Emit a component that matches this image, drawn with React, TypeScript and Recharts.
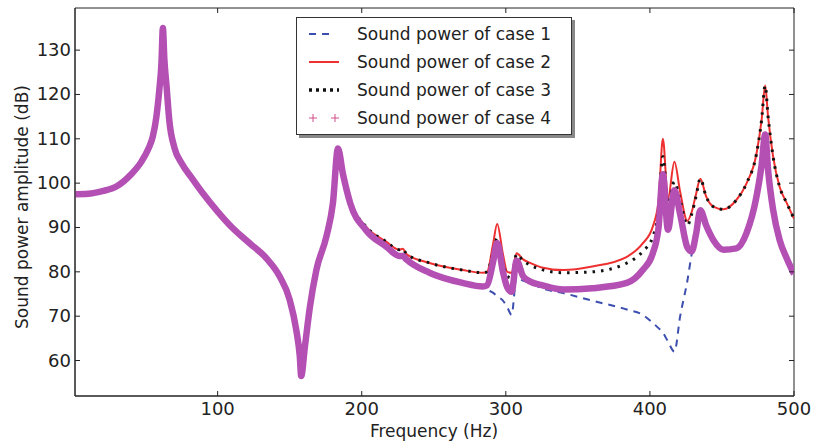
import { LineChart, Line, XAxis, YAxis, ReferenceArea } from 'recharts'

// frequency grid (Hz)
const freqs = [
  1, 10, 20, 30, 40, 47, 52, 55, 57.5, 59.5, 61, 62, 63, 64.5, 66.5, 70, 75, 82, 90, 100,
  110, 122, 134, 143, 150, 154.5, 157, 158, 160.5, 164, 168.5, 175.5, 180, 183.5, 187, 192,
  203, 217, 226, 228.5, 231, 247, 270, 284, 287, 291, 294, 298, 301, 304, 307.5, 312, 317,
  325, 340, 360, 384, 395, 402, 406, 409, 412.5, 417, 421, 426, 429, 432, 435, 439, 444,
  451, 460, 467, 474, 477.5, 480, 482, 485.5, 490, 495, 500,
]

// shared low-frequency part (all cases coincide up to ~187 Hz)
const lowPart = [
  97.5, 97.6, 98.2, 99.3, 102, 104.8, 107.8, 110.5, 115, 121, 127, 135, 128, 122, 114, 108,
  104.5, 101.2, 97.6, 93.6, 90, 86.5, 83, 79, 73.7, 67, 61, 56.5, 63, 72, 80.4, 88, 95.5,
  107.8, 102,
]

const case4High = [
  95.5, 89.4, 85.7, 83.6, 83.6, 82.8, 79.8, 77.5, 76.7, 77, 82, 86.5, 80, 76.5, 75.5, 82.5,
  79, 77.8, 77, 76, 76.3, 77.5, 80.4, 84.2, 90, 102, 89.5, 98.4, 93, 85.5, 84.6, 88.5, 93.9,
  90.5, 87.2, 85, 85.3, 88.7, 97, 104, 111, 103, 94, 87.2, 83, 79.5,
]

const case2High = [
  96, 90.2, 86.8, 85, 85.2, 84, 82, 80.4, 79.8, 80, 86, 90.8, 84, 80, 79.8, 84.2, 82.8, 82,
  81, 80.4, 81.2, 83.4, 86.4, 90.2, 96, 110, 96.5, 104.8, 98, 91.5, 93.5, 97.5, 101, 97,
  94.7, 94.1, 96.2, 99.9, 106.7, 114.2, 122, 115, 106, 99.2, 95.5, 92,
]

const case3High = [
  96, 90.2, 86.8, 85, 85.2, 84, 82, 80.4, 79.8, 80, 84, 87.5, 82, 79, 78.6, 84, 82.5, 81.5,
  80.5, 79.8, 80, 82, 84.6, 87.9, 94, 106, 95.5, 100.3, 96, 90.5, 93, 97, 101, 97, 94.7,
  94.1, 96.2, 99.9, 106.7, 114.2, 122, 115, 106, 99.2, 95.5, 92,
]

const case1High = [
  95.5, 89.4, 85.7, 83.6, 83.6, 82.8, 79.8, 77.5, 76.7, 76, 75.3, 74.5, 73.5, 72, 70.3, 79,
  78, 77.5, 76.3, 75.2, 73.5, 71.5, 70.3, 68.5, 67.3, 66.3, 64.3, 62, 70, 78, 84, 88.5, 93.9,
  90.5, 87.2, 85, 85.3, 88.7, 97, 104, 110, 103, 94, 87.2, 83, 79.5,
]

const case1 = [...lowPart, ...case1High]
const case2 = [...lowPart, ...case2High]
const case3 = [...lowPart, ...case3High]
const case4 = [...lowPart, ...case4High]

const xTicks = [100, 200, 300, 400, 500]
const yTicks = [60, 70, 80, 90, 100, 110, 120, 130]
const xDomain = [1, 500]
const yDomain = [52, 139.5]

const legendItems = [
  'Sound power of case 1',
  'Sound power of case 2',
  'Sound power of case 3',
  'Sound power of case 4',
]

const FONT = '"DejaVu Sans", sans-serif'
const INK = '#222'

const rows = freqs.map((f, i) => ({
  f,
  c1: case1[i],
  c2: case2[i],
  c3: case3[i],
  c4: case4[i],
}))

function BottomTick({ x, y, payload }: any) {
  return (
    <g>
      <line x1={x} x2={x} y1={y} y2={y - 5} stroke={INK} />
      <text x={x} y={y + 19} textAnchor="middle" fontSize={18} fontFamily={FONT} fill={INK}>
        {payload.value}
      </text>
    </g>
  )
}

function TopTick({ x, y }: any) {
  return <line x1={x} x2={x} y1={y} y2={y + 5} stroke={INK} />
}

function LeftTick({ x, y, payload }: any) {
  return (
    <g>
      <line x1={x} x2={x + 5} y1={y} y2={y} stroke={INK} />
      <text x={x - 4} y={y + 6} textAnchor="end" fontSize={18} fontFamily={FONT} fill={INK}>
        {payload.value}
      </text>
    </g>
  )
}

function RightTick({ x, y }: any) {
  return <line x1={x} x2={x - 5} y1={y} y2={y} stroke={INK} />
}

function LegendBox() {
  const sample = (i: number) => {
    const y = 16 + i * 28
    if (i === 0) return <line x1={12} x2={38} y1={y} y2={y} stroke="#3d4fae" strokeWidth={2} strokeDasharray="7 6" />
    if (i === 1) return <line x1={12} x2={42} y1={y} y2={y} stroke="#ee3030" strokeWidth={2} />
    if (i === 2) return <line x1={12} x2={42} y1={y} y2={y} stroke="#111" strokeWidth={3.5} strokeDasharray="3 4" />
    return (
      <g stroke="#d0508a" strokeWidth={1}>
        <line x1={12} x2={20} y1={y} y2={y} />
        <line x1={16} x2={16} y1={y - 4} y2={y + 4} />
        <line x1={34} x2={42} y1={y} y2={y} />
        <line x1={38} x2={38} y1={y - 4} y2={y + 4} />
      </g>
    )
  }
  return (
    <div
      style={{
        position: 'absolute',
        left: 296,
        top: 17,
        width: 274,
        height: 116,
        background: '#fff',
        border: '1px solid #333',
        boxShadow: '3px 3px 0 #888',
      }}
    >
      <svg width={274} height={116} style={{ display: 'block' }}>
        {legendItems.map((label, i) => (
          <g key={label}>
            {sample(i)}
            <text x={60} y={22 + i * 28} fontSize={17} fontFamily={FONT} fill={INK}>
              {label}
            </text>
          </g>
        ))}
      </svg>
    </div>
  )
}

export default function App() {
  return (
    <div style={{ position: 'absolute', left: 0, top: 0, width: 814, height: 446, background: '#fff' }}>
      <LineChart width={814} height={446} data={rows} margin={{ top: 7, right: 19, bottom: 0, left: 15 }}>
        <XAxis
          dataKey="f"
          type="number"
          domain={xDomain}
          ticks={xTicks}
          height={50}
          tickSize={0}
          tickMargin={0}
          tick={<BottomTick />}
          stroke={INK}
          allowDataOverflow
        />
        <XAxis
          xAxisId="top"
          orientation="top"
          dataKey="f"
          type="number"
          domain={xDomain}
          ticks={xTicks}
          height={1}
          tickSize={0}
          tickMargin={0}
          tick={<TopTick />}
          axisLine={false}
          allowDataOverflow
        />
        <YAxis
          type="number"
          domain={yDomain}
          ticks={yTicks}
          width={60}
          tickSize={0}
          tickMargin={0}
          tick={<LeftTick />}
          stroke={INK}
          allowDataOverflow
        />
        <YAxis
          yAxisId="right"
          orientation="right"
          type="number"
          domain={yDomain}
          ticks={yTicks}
          width={1}
          tickSize={0}
          tickMargin={0}
          tick={<RightTick />}
          axisLine={false}
          allowDataOverflow
        />
        {/* invisible series so the top and right axes get their ticks */}
        <Line
          xAxisId="top"
          yAxisId="right"
          dataKey="c1"
          stroke="none"
          dot={false}
          legendType="none"
          isAnimationActive={false}
        />
        {/* plot frame */}
        <ReferenceArea
          x1={xDomain[0]}
          x2={xDomain[1]}
          y1={yDomain[0]}
          y2={yDomain[1]}
          fill="none"
          stroke={INK}
          strokeWidth={1}
          ifOverflow="extendDomain"
        />
        <Line
          type="monotone"
          dataKey="c1"
          stroke="#3d4fae"
          strokeWidth={2}
          strokeDasharray="7 6"
          dot={false}
          isAnimationActive={false}
        />
        <Line
          type="monotone"
          dataKey="c2"
          stroke="#ee3030"
          strokeWidth={2}
          dot={false}
          isAnimationActive={false}
        />
        <Line
          type="monotone"
          dataKey="c3"
          stroke="#111"
          strokeWidth={3}
          strokeDasharray="2.5 6"
          dot={false}
          isAnimationActive={false}
        />
        <Line
          type="monotone"
          dataKey="c4"
          stroke="#b450b4"
          strokeWidth={6.5}
          dot={false}
          isAnimationActive={false}
        />
      </LineChart>
      <LegendBox />
      <div
        style={{
          position: 'absolute',
          left: 434,
          top: 421,
          transform: 'translateX(-50%)',
          fontSize: 17,
          fontFamily: FONT,
          color: INK,
          whiteSpace: 'nowrap',
        }}
      >
        Frequency (Hz)
      </div>
      <div
        style={{
          position: 'absolute',
          left: 22,
          top: 207,
          transform: 'translate(-50%, -50%) rotate(-90deg)',
          fontSize: 17,
          fontFamily: FONT,
          color: INK,
          whiteSpace: 'nowrap',
        }}
      >
        Sound power amplitude (dB)
      </div>
    </div>
  )
}
